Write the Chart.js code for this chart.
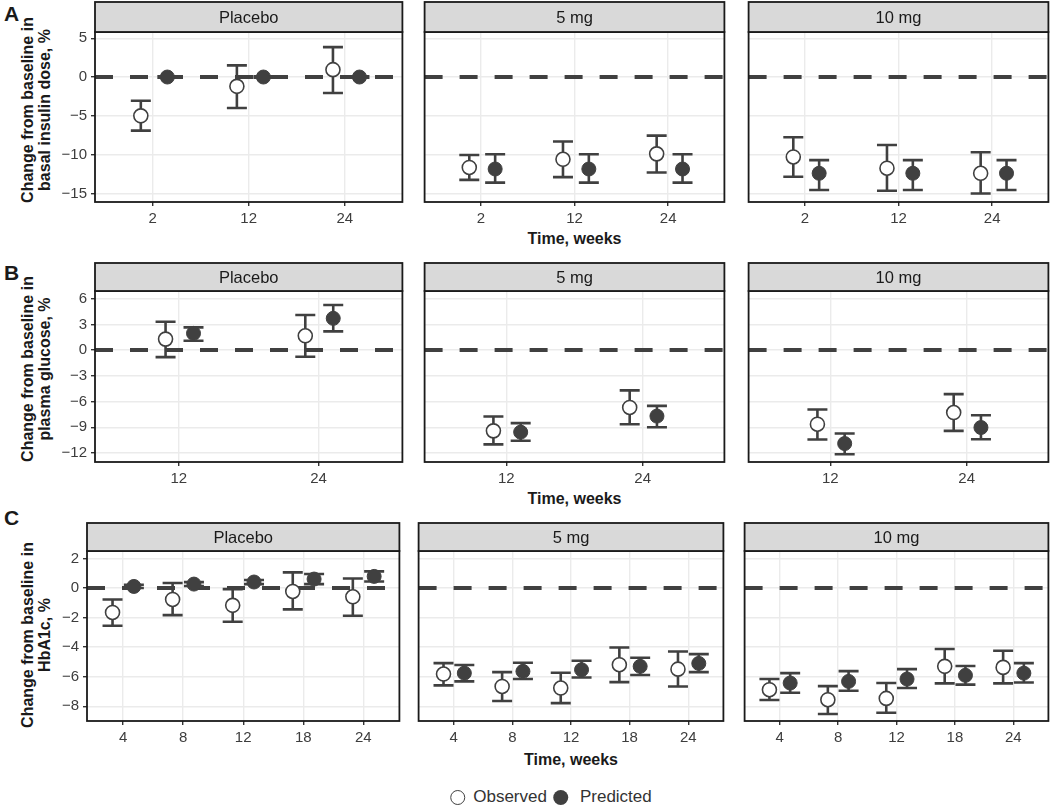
<!DOCTYPE html>
<html>
<head>
<meta charset="utf-8">
<script src="https://cdn.jsdelivr.net/npm/chart.js@4.4.1/dist/chart.umd.min.js"></script>
<style>
  html, body { margin: 0; padding: 0; background: #fff; }
  #fig { position: relative; width: 1059px; height: 808px; overflow: hidden;
         font-family: "Liberation Sans", Arial, sans-serif; color: #1a1a1a; }
  #fig canvas { position: absolute; }
  .letter { position: absolute; font-weight: bold; font-size: 21px; line-height: 21px; }
  .ytitle { position: absolute; font-weight: bold; font-size: 16px; line-height: 17px;
            text-align: center; white-space: nowrap; transform: translate(-50%, -50%) rotate(-90deg); }
  .xtitle { position: absolute; font-weight: bold; font-size: 16px; white-space: nowrap;
            transform: translate(-50%, -50%); }
  #legend { position: absolute; left: 551px; top: 797px; transform: translate(-50%, -50%);
            display: flex; align-items: center; font-size: 17px; white-space: nowrap; color: #333; }
  .dot { display: inline-block; width: 15px; height: 15px; border-radius: 50%; box-sizing: border-box; }
  .dot.obs { border: 1.6px solid #404040; background: #fff; margin-right: 8px; }
  .dot.pred { background: #404040; margin: 0 12px 0 6px; }
</style>
</head>
<body>
<div id="fig"></div>
<script>
// Categories (time, weeks)
const weeksA = ["2", "12", "24"];
const weeksB = ["12", "24"];
const weeksC = ["4", "8", "12", "18", "24"];

// Y tick labels
const yTicksA = [-15, -10, -5, 0, 5];
const yTicksB = [-12, -9, -6, -3, 0, 3, 6];
const yTicksC = [-8, -6, -4, -2, 0, 2];

// Values as [mean, lower, upper]
// A: basal insulin dose
const insulinObsPlacebo = [[-5.0, -6.9, -3.05], [-1.2, -4.0, 1.5], [0.95, -2.05, 3.85]];
const insulinPredPlacebo = [[0, -0.1, 0.1], [0, -0.1, 0.1], [0, -0.1, 0.1]];
const insulinObs5 = [[-11.65, -13.25, -10.05], [-10.6, -12.9, -8.3], [-9.9, -12.3, -7.55]];
const insulinPred5 = [[-11.85, -13.6, -9.95], [-11.85, -13.6, -9.95], [-11.85, -13.6, -9.95]];
const insulinObs10 = [[-10.3, -12.85, -7.75], [-11.75, -14.65, -8.75], [-12.4, -15.0, -9.7]];
const insulinPred10 = [[-12.4, -14.55, -10.7], [-12.4, -14.55, -10.7], [-12.4, -14.55, -10.7]];

// B: plasma glucose
const glucoseObsPlacebo = [[1.28, -0.82, 3.3], [1.67, -0.78, 4.09]];
const glucosePredPlacebo = [[1.95, 1.09, 2.65], [3.7, 2.18, 5.25]];
const glucoseObs5 = [[-9.42, -11.0, -7.74], [-6.69, -8.64, -4.7]];
const glucosePred5 = [[-9.57, -10.58, -8.52], [-7.7, -8.99, -6.5]];
const glucoseObs10 = [[-8.64, -10.43, -6.93], [-7.28, -9.42, -5.14]];
const glucosePred10 = [[-10.9, -12.14, -9.73], [-9.03, -10.39, -7.59]];

// C: HbA1c
const hba1cObsPlacebo = [[-1.65, -2.55, -0.77], [-0.77, -1.83, 0.34], [-1.17, -2.28, -0.07], [-0.23, -1.44, 1.06], [-0.59, -1.87, 0.65]];
const hba1cPredPlacebo = [[0.11, 0.0, 0.22], [0.27, 0.14, 0.4], [0.41, 0.27, 0.55], [0.61, 0.27, 0.95], [0.79, 0.45, 1.13]];
const hba1cObs5 = [[-5.82, -6.59, -5.08], [-6.66, -7.65, -5.69], [-6.77, -7.79, -5.73], [-5.19, -6.37, -4.02], [-5.49, -6.66, -4.29]];
const hba1cPred5 = [[-5.76, -6.32, -5.21], [-5.64, -6.16, -5.06], [-5.53, -6.05, -4.92], [-5.3, -5.89, -4.72], [-5.1, -5.69, -4.47]];
const hba1cObs10 = [[-6.88, -7.58, -6.16], [-7.56, -8.53, -6.64], [-7.47, -8.44, -6.43], [-5.3, -6.45, -4.13], [-5.37, -6.45, -4.24]];
const hba1cPred10 = [[-6.43, -7.09, -5.76], [-6.32, -6.95, -5.62], [-6.16, -6.77, -5.49], [-5.91, -6.54, -5.28], [-5.76, -6.39, -5.08]];

const FACETS = ["Placebo", "5 mg", "10 mg"];

const INK = "#404040";
const GRID = "#ebebeb";
const FONT = '"Liberation Sans", Arial, sans-serif';
const Y_AXIS_W = 40;
const X_AXIS_H = 30;

// Row layout
const ROWS = [
  { letter: "A", letterTop: 3, stripTop: 2, panelTop: 32, panelBottom: 202,
    cols: [[95, 409], [418, 731], [742, 1055]], yMin: -16.1, yMax: 5.8, yTicks: yTicksA,
    dodge: [-0.123, 0.153], cats: weeksA, titleMid: 110, xTitleY: 239,
    yTitle: ["Change from baseline in", "basal insulin dose, %"],
    series: [[insulinObsPlacebo, insulinPredPlacebo], [insulinObs5, insulinPred5], [insulinObs10, insulinPred10]] },
  { letter: "B", letterTop: 262, stripTop: 263, panelTop: 291, panelBottom: 462,
    cols: [[95, 409], [418, 731], [742, 1055]], yMin: -13.05, yMax: 6.89, yTicks: yTicksB,
    dodge: [-0.095, 0.105], cats: weeksB, titleMid: 369, xTitleY: 499,
    yTitle: ["Change from baseline in", "plasma glucose, %"],
    series: [[glucoseObsPlacebo, glucosePredPlacebo], [glucoseObs5, glucosePred5], [glucoseObs10, glucosePred10]] },
  { letter: "C", letterTop: 507, stripTop: 523, panelTop: 551, panelBottom: 721,
    cols: [[87, 406], [412, 730], [738, 1055]], yMin: -9.0, yMax: 2.51, yTicks: yTicksC,
    dodge: [-0.175, 0.18], cats: weeksC, titleMid: 635, xTitleY: 760,
    yTitle: ["Change from baseline in", "HbA1c, %"],
    series: [[hba1cObsPlacebo, hba1cPredPlacebo], [hba1cObs5, hba1cPred5], [hba1cObs10, hba1cPred10]] },
];

const fmtTick = v => (v < 0 ? "\u2212" + Math.abs(v) : String(v));

// Zero reference line, error bars, panel frame and facet strip
const facetPlugin = {
  id: "facet",
  beforeDatasetsDraw(chart) {
    const { ctx, chartArea: a, scales: { y } } = chart;
    const y0 = y.getPixelForValue(0);
    ctx.save();
    ctx.strokeStyle = INK;
    ctx.lineWidth = 4;
    ctx.setLineDash([18, 17]);
    ctx.beginPath();
    ctx.moveTo(a.left, y0);
    ctx.lineTo(a.right, y0);
    ctx.stroke();
    ctx.setLineDash([]);
    ctx.lineWidth = 2.6;
    chart.data.datasets.forEach((ds, i) => {
      chart.getDatasetMeta(i).data.forEach((pt, j) => {
        const lo = y.getPixelForValue(ds.errs[j][1]);
        const hi = y.getPixelForValue(ds.errs[j][2]);
        ctx.beginPath();
        ctx.moveTo(pt.x - 10, hi); ctx.lineTo(pt.x + 10, hi);
        ctx.moveTo(pt.x, hi); ctx.lineTo(pt.x, lo);
        ctx.moveTo(pt.x - 10, lo); ctx.lineTo(pt.x + 10, lo);
        ctx.stroke();
      });
    });
    ctx.restore();
  },
  afterDraw(chart, args, opts) {
    const { ctx, chartArea: a } = chart;
    ctx.save();
    ctx.lineWidth = 1.8;
    ctx.strokeStyle = "#1a1a1a";
    ctx.strokeRect(a.left, a.top, a.right - a.left, a.bottom - a.top);
    ctx.fillStyle = "#d9d9d9";
    ctx.fillRect(a.left, 1, a.right - a.left, a.top - 1);
    ctx.strokeRect(a.left, 1, a.right - a.left, a.top - 1);
    ctx.fillStyle = "#1a1a1a";
    ctx.font = `16.5px ${FONT}`;
    ctx.textAlign = "center";
    ctx.textBaseline = "middle";
    ctx.fillText(opts.title, (a.left + a.right) / 2, (a.top + 1) / 2 + 1);
    ctx.restore();
  },
};

const fig = document.getElementById("fig");

function addDiv(cls, html, style) {
  const d = document.createElement("div");
  d.className = cls;
  d.innerHTML = html;
  Object.assign(d.style, style);
  fig.appendChild(d);
  return d;
}

ROWS.forEach(row => {
  addDiv("letter", row.letter, { left: "4px", top: row.letterTop + "px" });
  addDiv("ytitle", row.yTitle.join("<br>"), { left: "36px", top: row.titleMid + "px" });
  addDiv("xtitle", "Time, weeks", {
    left: (row.cols[1][0] + row.cols[1][1]) / 2 + "px", top: row.xTitleY + "px" });

  row.cols.forEach(([x0, x1], c) => {
    const isLeft = c === 0;
    const [obs, pred] = row.series[c];
    const n = row.cats.length;
    const padL = isLeft ? 0 : 2;
    const yW = isLeft ? Y_AXIS_W : 0;
    const stripH = row.panelTop - row.stripTop + 1;

    const canvas = document.createElement("canvas");
    canvas.width = Math.round(x1 - x0 + yW + padL + 2);
    canvas.height = Math.round(row.panelBottom - row.stripTop + 1 + X_AXIS_H);
    canvas.style.left = (x0 - yW - padL) + "px";
    canvas.style.top = (row.stripTop - 1) + "px";
    fig.appendChild(canvas);

    const toPoints = (arr, off) => arr.map((d, i) => ({ x: i + 1 + off, y: d[0] }));

    new Chart(canvas, {
      type: "scatter",
      data: {
        datasets: [
          {
            label: "Observed",
            data: toPoints(obs, row.dodge[0]),
            errs: obs,
            backgroundColor: "#ffffff",
            borderColor: INK,
            borderWidth: 1.6,
            pointRadius: 7,
            pointHoverRadius: 7,
          },
          {
            label: "Predicted",
            data: toPoints(pred, row.dodge[1]),
            errs: pred,
            backgroundColor: INK,
            borderColor: INK,
            borderWidth: 1,
            pointRadius: 7,
            pointHoverRadius: 7,
          },
        ],
      },
      options: {
        responsive: false,
        animation: false,
        events: [],
        layout: { padding: { top: stripH, left: padL, right: 2, bottom: 0 } },
        plugins: {
          legend: { display: false },
          tooltip: { enabled: false },
          facet: { title: FACETS[c] },
        },
        scales: {
          x: {
            type: "linear",
            min: 0.4,
            max: n + 0.6,
            afterBuildTicks: s => { s.ticks = row.cats.map((_, i) => ({ value: i + 1 })); },
            afterFit: s => { s.height = X_AXIS_H; },
            border: { display: false },
            grid: { color: GRID, lineWidth: 1.4, drawTicks: true, tickLength: 4, tickColor: "#333", tickWidth: 1.4 },
            ticks: {
              callback: v => row.cats[Math.round(v) - 1],
              font: { family: FONT, size: 15 },
              color: "#3d3d3d",
              padding: 4,
              maxRotation: 0,
              autoSkip: false,
            },
          },
          y: {
            min: row.yMin,
            max: row.yMax,
            afterBuildTicks: s => { s.ticks = row.yTicks.map(v => ({ value: v })); },
            afterFit: s => { s.width = yW; },
            border: { display: false },
            grid: { color: GRID, lineWidth: 1.4, drawTicks: isLeft, tickLength: 4, tickColor: "#333", tickWidth: 1.4 },
            ticks: {
              display: isLeft,
              callback: v => fmtTick(v),
              font: { family: FONT, size: 15 },
              color: "#3d3d3d",
              padding: 4,
            },
          },
        },
      },
      plugins: [facetPlugin],
    });
  });
});

// Legend
addDiv("", '<span class="dot obs"></span>Observed<span class="dot pred"></span>Predicted', {}).id = "legend";
</script>
</body>
</html>
